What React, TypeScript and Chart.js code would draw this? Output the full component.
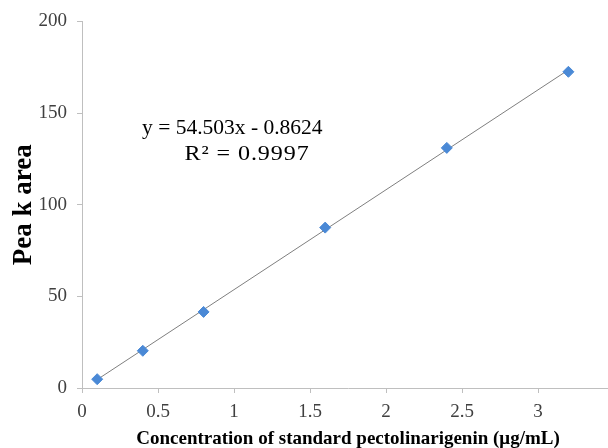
import React, { useEffect, useRef } from "react";
import { Chart, registerables } from "chart.js";

Chart.register(...registerables);

const concentrations = [0.1, 0.4, 0.8, 1.6, 2.4, 3.2];
const peakAreas = [4.8, 20.3, 41.5, 87.5, 131, 172.5];
const slope = 54.503;
const intercept = -0.8624;
const equationText = "y = 54.503x - 0.8624";
const r2Text = "R\u00B2 = 0.9997";
const xTitle = "Concentration of standard pectolinarigenin (\u03BCg/mL)";
const yTitle = "Pea k area";

const SERIF = "'Liberation Serif', 'Times New Roman', serif";

export default function App() {
  const ref = useRef<HTMLCanvasElement>(null);
  useEffect(() => {
    if (!ref.current) return;
    const xs0 = concentrations[0];
    const xs1 = concentrations[concentrations.length - 1];
    const trend = [
      { x: xs0, y: slope * xs0 + intercept },
      { x: xs1, y: slope * xs1 + intercept },
    ];
    const textPlugin = {
      id: "eqText",
      afterDraw(chart: any) {
        const ctx = chart.ctx;
        const xs = chart.scales.x;
        const ys = chart.scales.y;
        ctx.save();
        ctx.fillStyle = "#000";
        ctx.font = `21.5px ${SERIF}`;
        ctx.textAlign = "left";
        ctx.textBaseline = "middle";
        ctx.fillText(equationText, xs.getPixelForValue(0.395), ys.getPixelForValue(141.8));
        const x2 = xs.getPixelForValue(0.675);
        const y2 = ys.getPixelForValue(127.7);
        ctx.translate(x2, y2);
        ctx.scale(1.12, 1);
        (ctx as any).letterSpacing = "0.8px";
        ctx.fillText(r2Text, 0, 0);
        ctx.restore();
      },
    };
    const chart = new Chart(ref.current, {
      type: "scatter",
      data: {
        datasets: [
          {
            data: concentrations.map((x, i) => ({ x, y: peakAreas[i] })),
            backgroundColor: "#4a89d6",
            borderColor: "#4a89d6",
            pointStyle: "rectRot",
            pointRadius: 5.5,
            order: 1,
          },
          {
            type: "line",
            data: trend,
            borderColor: "#7f7f7f",
            borderWidth: 1,
            pointRadius: 0,
            fill: false,
            order: 2,
          } as any,
        ],
      },
      options: {
        animation: false,
        responsive: false,
        layout: { padding: { left: 0, right: 26, top: 20, bottom: 0 } },
        plugins: { legend: { display: false }, tooltip: { enabled: false } },
        scales: {
          x: {
            type: "linear",
            min: 0,
            max: 3.5,
            ticks: {
              stepSize: 0.5,
              color: "#404040",
              font: { family: SERIF, size: 19 },
              padding: 8,
              maxRotation: 0,
              callback: (v: any) => (Number(v) >= 3.5 ? "" : String(v)),
            },
            grid: { drawOnChartArea: false, drawTicks: true, tickLength: 5, color: "#bfbfbf" },
            border: { color: "#bfbfbf" },
            title: {
              display: true,
              text: xTitle,
              color: "#000",
              font: { family: SERIF, size: 19, weight: "bold" },
              padding: { top: 0, bottom: 0 },
            },
            afterFit: (s: any) => {
              s.height = 62;
            },
          },
          y: {
            type: "linear",
            min: 0,
            max: 200,
            ticks: {
              stepSize: 50,
              color: "#404040",
              font: { family: SERIF, size: 19 },
              padding: 10,
            },
            grid: { drawOnChartArea: false, drawTicks: true, tickLength: 5, color: "#bfbfbf" },
            border: { color: "#bfbfbf" },
            title: {
              display: true,
              text: yTitle,
              color: "#000",
              font: { family: SERIF, size: 27, weight: "bold" },
              padding: { top: 8, bottom: 0 },
            },
            afterFit: (s: any) => {
              s.width = 82;
            },
          },
        },
      },
      plugins: [textPlugin],
    });
    return () => chart.destroy();
  }, []);
  return (
    <div style={{ position: "fixed", left: 0, top: 0, width: 608, height: 448, overflow: "hidden", background: "#fff" }}>
      <canvas ref={ref} width={640} height={450} style={{ display: "block" }} />
    </div>
  );
}
